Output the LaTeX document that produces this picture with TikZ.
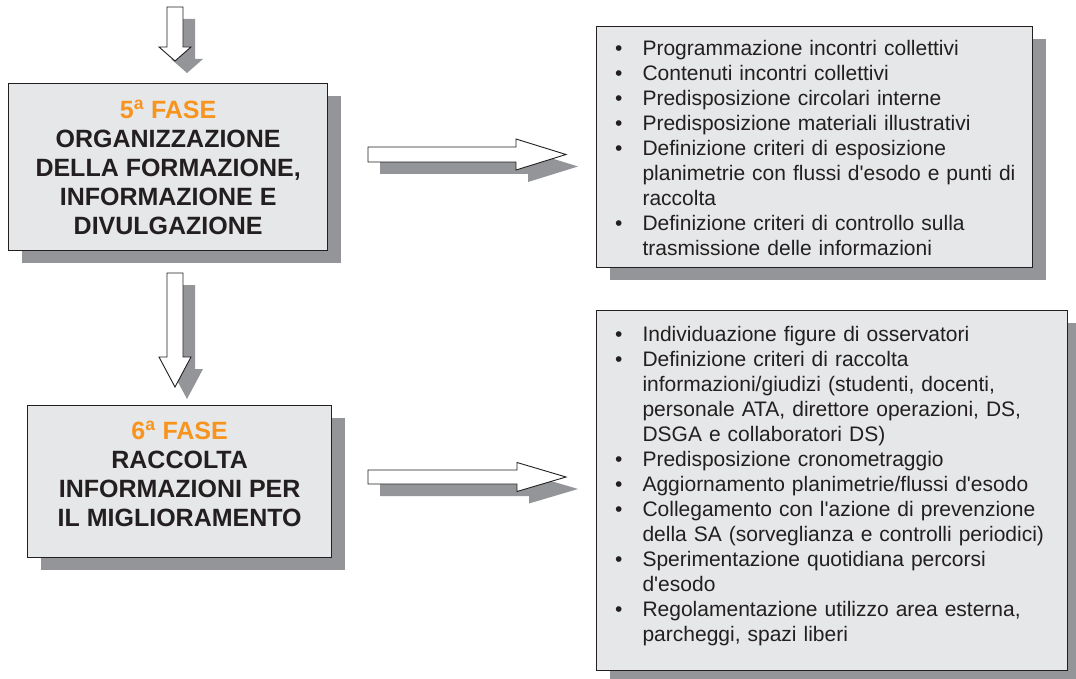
\documentclass[tikz,border=0pt]{standalone}
\usepackage{fontspec}
\setmainfont{Liberation Sans}[Ligatures=TeXOff]
\usetikzlibrary{positioning,shadows}
\definecolor{boxgray}{HTML}{E6E7E8}
\definecolor{shadegray}{HTML}{939598}
\definecolor{faseorange}{HTML}{F7941D}
\definecolor{inkdark}{HTML}{231F20}
\newenvironment{fasilist}{%
  \begin{list}{\textbullet}{%
    \setlength{\leftmargin}{42pt}\setlength{\labelsep}{20pt}%
    \setlength{\labelwidth}{22pt}\setlength{\itemsep}{0pt}%
    \setlength{\parsep}{0pt}\setlength{\topsep}{0pt}%
    \setlength{\partopsep}{0pt}}\raggedright}%
  {\end{list}}
\tikzset{
fasebox/.style={
  draw=inkdark, line width=1.3pt, fill=boxgray,
  anchor=north west, inner sep=0pt, align=center, text=inkdark,
  font=\fontsize{25}{29}\selectfont\bfseries,
  drop shadow={shadow xshift=13pt, shadow yshift=-12pt, fill=shadegray, opacity=1}
},
listbox/.style={
  draw=inkdark, line width=1.1pt, fill=boxgray,
  anchor=north west, inner xsep=4pt, inner ysep=0pt, text=inkdark,
  font=\fontsize{21}{25}\selectfont,
  drop shadow={shadow xshift=13pt, shadow yshift=-12pt, fill=shadegray, opacity=1}
},
blockarrow/.style={
  draw=inkdark, fill=white, line width=0.9pt, line join=miter,
  preaction={fill=shadegray, transform canvas={shift={(12pt,-12pt)}}}
}
}

\begin{document}
\begin{tikzpicture}[x=1pt, y=-1pt]
\useasboundingbox (0,0) rectangle (1076,679);

% fasi
\node[fasebox, minimum width=319pt, minimum height=167pt] (b1) at (8,83) {%
  {\color{faseorange}5\textsuperscript{a} FASE}\\
  ORGANIZZAZIONE\\
  DELLA FORMAZIONE,\\
  INFORMAZIONE E\\
  DIVULGAZIONE};
\node[fasebox, minimum width=304pt, minimum height=152pt] (b2) at (27,405) {%
  {\color{faseorange}6\textsuperscript{a} FASE}\\
  RACCOLTA\\
  INFORMAZIONI PER\\
  IL MIGLIORAMENTO\rule[-16pt]{0pt}{16pt}};

% elenchi
\node[listbox, text width=428pt, minimum height=241pt] (l1) at (596,26) {%
  \begin{fasilist}
  \item Programmazione incontri collettivi
  \item Contenuti incontri collettivi
  \item Predisposizione circolari interne
  \item Predisposizione materiali illustrativi
  \item Definizione criteri di esposizione\newline
        planimetrie con flussi d'esodo e punti di\newline
        raccolta
  \item Definizione criteri di controllo sulla\newline
        trasmissione delle informazioni\rule[-8pt]{0pt}{8pt}
  \end{fasilist}};
\node[listbox, text width=463pt, minimum height=360pt] (l2) at (596,310) {%
  \begin{fasilist}
  \item Individuazione figure di osservatori
  \item Definizione criteri di raccolta\newline
        informazioni/giudizi (studenti, docenti,\newline
        personale ATA, direttore operazioni, DS,\newline
        DSGA e collaboratori DS)
  \item Predisposizione cronometraggio
  \item Aggiornamento planimetrie/flussi d'esodo
  \item Collegamento con l'azione di prevenzione\newline
        della SA (sorveglianza e controlli periodici)
  \item Sperimentazione quotidiana percorsi\newline
        d'esodo
  \item Regolamentazione utilizzo area esterna,\newline
        parcheggi, spazi liberi\rule[-23pt]{0pt}{23pt}
  \end{fasilist}};

% code delle frecce
\coordinate (t0) at (175,7);
\coordinate (t1) at (175,273);
\coordinate (r1) at (368,154.5);
\coordinate (r2) at (368,477);

% frecce verticali
\draw[blockarrow] ([xshift=-8pt]t0) -- ++(16,0) -- ++(0,40) -- ++(8,0)
  -- ++(-16,14) -- ++(-16,-14) -- ++(8,0) -- cycle;
\draw[blockarrow] ([xshift=-8pt]t1) -- ++(16,0) -- ++(0,84) -- ++(8,0)
  -- ++(-16,30) -- ++(-16,-30) -- ++(8,0) -- cycle;

% frecce orizzontali
\draw[blockarrow] ([yshift=7.5pt]r1) -- ++(148,0) -- ++(0,-8) -- ++(50,15.5)
  -- ++(-50,15.5) -- ++(0,-8) -- ++(-148,0) -- cycle;
\draw[blockarrow] ([yshift=7pt]r2) -- ++(149,0) -- ++(0,-7.5) -- ++(49,14.5)
  -- ++(-49,14.5) -- ++(0,-7.5) -- ++(-149,0) -- cycle;
\end{tikzpicture}
\end{document}
